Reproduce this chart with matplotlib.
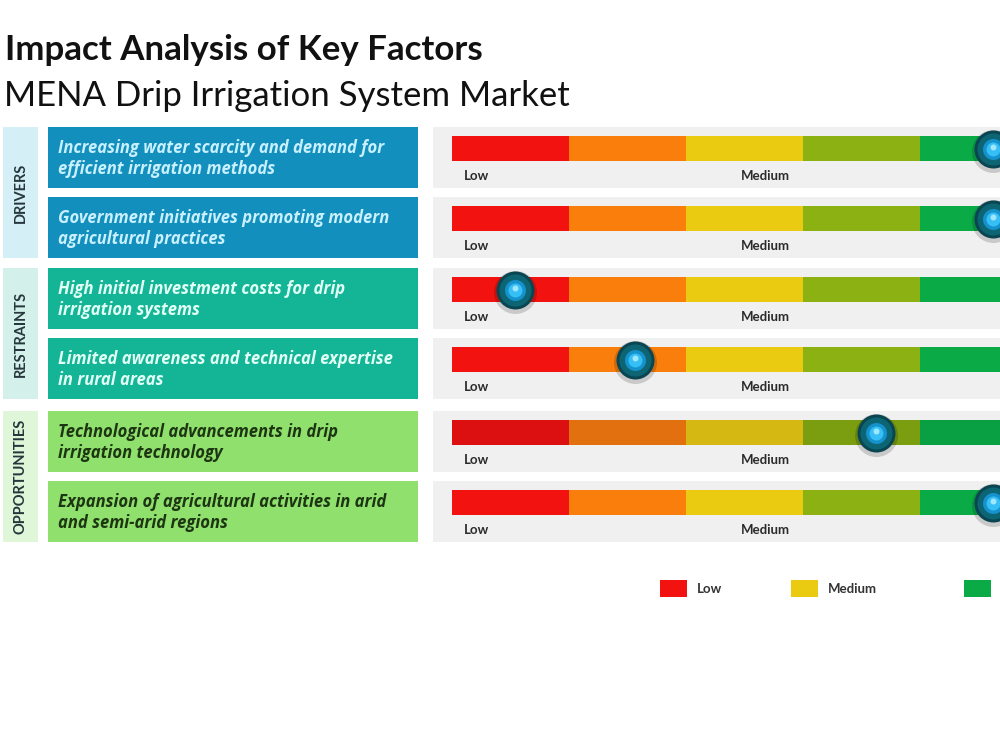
import matplotlib
matplotlib.use("Agg")
import matplotlib.pyplot as plt
from matplotlib.patches import Rectangle

# ---- data ----
groups = ["DRIVERS", "RESTRAINTS", "OPPORTUNITIES"]
factors = [
    "Increasing water scarcity and demand for\nefficient irrigation methods",
    "Government initiatives promoting modern\nagricultural practices",
    "High initial investment costs for drip\nirrigation systems",
    "Limited awareness and technical expertise\nin rural areas",
    "Technological advancements in drip\nirrigation technology",
    "Expansion of agricultural activities in arid\nand semi-arid regions",
]
factor_group = [0, 0, 1, 1, 2, 2]
impact = [4.62, 4.62, 0.54, 1.56, 3.62, 4.62]   # 0 = lowest, 5 = highest
scale_labels = ["Low", "Medium"]
scale_label_pos = [0.10, 2.47]
legend_labels = ["Low", "Medium"]   # third (High) label falls off the frame

seg_colors = ["#f2120f", "#fa7e0c", "#ebca12", "#8cb112", "#0aab47"]
seg_dark = ["#dc1010", "#e2700e", "#d6b812", "#7a9e10", "#08a042"]
strip_colors = ["#d5eff7", "#d3f1ea", "#e0f6d8"]
box_colors = ["#128fbd", "#13b596", "#8fe06c"]
text_colors = ["#c8f0ff", "#e2fff6", "#1d3512"]

row_top = [127, 197, 268, 338, 411, 481]
row_h = 61
unit = 117  # px per impact unit

plt.rcParams["font.family"] = ["Lato", "DejaVu Sans"]

fig = plt.figure(figsize=(10, 7.51), dpi=100)
ax = fig.add_axes([0, 0, 1, 1])
ax.set_xlim(0, 1000)
ax.set_ylim(751, 0)
ax.axis("off")

ax.text(5, 50, "Impact Analysis of Key Factors", fontsize=25.1, fontweight="bold",
        color="#111111", va="center", ha="left")
ax.text(4, 96, "MENA Drip Irrigation System Market", fontsize=25,
        color="#111111", va="center", ha="left")

# group strips
for g, name in enumerate(groups):
    rows = [i for i, fg in enumerate(factor_group) if fg == g]
    top = row_top[rows[0]]
    bot = row_top[rows[-1]] + row_h
    ax.add_patch(Rectangle((3, top), 35, bot - top, color=strip_colors[g], lw=0))
    ax.text(20.5, (top + bot) / 2, name, rotation=90, fontsize=10.5, fontweight="bold",
            color="#27363c", ha="center", va="center")

# factor boxes
for i, txt in enumerate(factors):
    g = factor_group[i]
    ax.add_patch(Rectangle((48, row_top[i]), 370, row_h, color=box_colors[g], lw=0))
    ax.text(58, row_top[i] + row_h / 2 + 1, txt, fontsize=12, fontweight="bold",
            fontstyle="italic", color=text_colors[g], ha="left", va="center",
            linespacing=1.2, family=["Open Sans", "Lato", "DejaVu Sans"])

# gauges
gx = fig.add_axes([433 / 1000, 0, (1000 - 433) / 1000, 1])
gx.set_xlim(-19 / unit, (1000 - 452) / unit)
gx.set_ylim(751, 0)
gx.axis("off")

d2s = lambda d: (d * 0.72) ** 2
for i, val in enumerate(impact):
    top = row_top[i]
    gx.barh(top + row_h / 2, 10, left=-1, height=row_h, color="#f1f0f0", lw=0)
    cy = top + 21.5
    cols = seg_dark if i == 4 else seg_colors
    for k, c in enumerate(cols):
        gx.barh(cy, 1, left=k, height=25, color=c, lw=0)
    for lab, px in zip(scale_labels, scale_label_pos):
        gx.text(px, top + 49, lab, fontsize=9.5, fontweight="bold", color="#2b2b2b",
                ha="left", va="center")
    # knob
    gx.scatter([val], [cy + 2], s=d2s(43), color="black", alpha=0.16, lw=0, zorder=5)
    gx.scatter([val], [cy], s=d2s(38), color="#0a4652", lw=0, zorder=6)
    gx.scatter([val], [cy], s=d2s(32), color="#0d6573", lw=0, zorder=7)
    gx.scatter([val], [cy], s=d2s(21), color="#1591cc", lw=0, zorder=8)
    gx.scatter([val], [cy], s=d2s(14), color="#35bff5", lw=0, zorder=9)
    gx.scatter([val], [cy - 1.5], s=d2s(6), color="#9fe6ff", lw=0, zorder=10)

# legend
leg_x = [660, 791, 964]
leg_c = [seg_colors[0], seg_colors[2], seg_colors[4]]
for k, (x, c) in enumerate(zip(leg_x, leg_c)):
    ax.add_patch(Rectangle((x, 580), 27, 17, color=c, lw=0))
    if k < len(legend_labels):
        ax.text(x + 37, 589, legend_labels[k], fontsize=9.5, fontweight="bold",
                color="#333333", ha="left", va="center")

fig.savefig("out.png", dpi=100)
